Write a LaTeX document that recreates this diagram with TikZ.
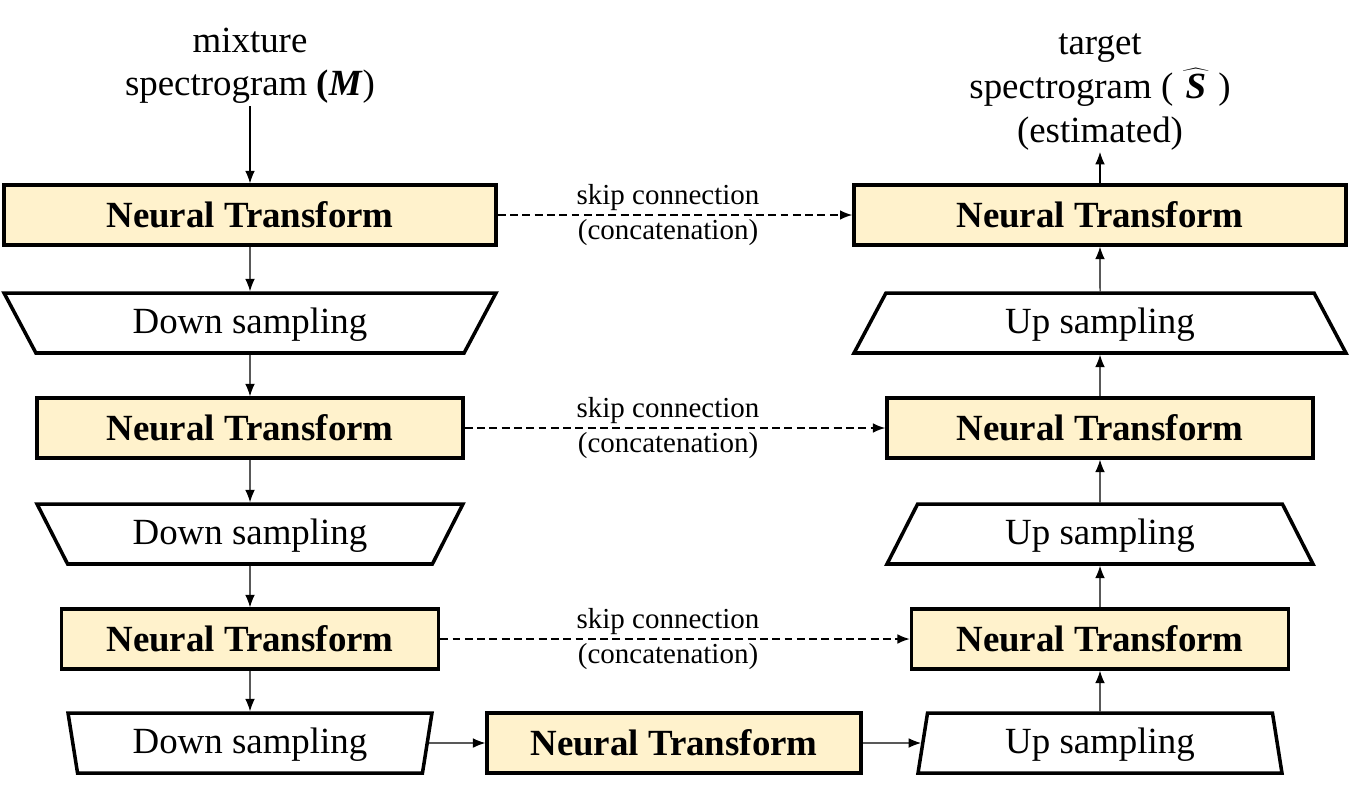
\documentclass[tikz,border=0pt]{standalone}
\usepackage{fontspec}
\setmainfont{Liberation Serif}
\usepackage{tikz}
\usetikzlibrary{positioning}
\usetikzlibrary{arrows.meta,shapes.geometric}
\usepackage{xcolor}
\definecolor{ntfill}{HTML}{FFF2CC}

\begin{document}
\begin{tikzpicture}[x=0.02cm,y=-0.02cm,
  ntbox/.style={draw, line width=2pt, fill=ntfill, minimum height=1.2cm, inner sep=0pt, font=\fontsize{21}{25}\selectfont\bfseries},
  sampbox/.style={draw, line width=2pt, trapezium, trapezium stretches body, text height=0.55cm, text depth=0.15cm, inner xsep=0pt, inner ysep=0.25cm, font=\fontsize{21}{25}\selectfont},
  downbox/.style={sampbox, shape border rotate=180},
  arr/.style={line width=0.6pt, -{Latex[length=7pt,width=5.5pt]}},
  skip/.style={arr, line width=0.9pt, dash pattern=on 4.5pt off 2.5pt},
  skiplabel/.style={font=\fontsize{16.5}{19.8}\selectfont, align=center, xshift=-0.14cm},
  iolabel/.style={font=\fontsize{21}{25}\selectfont, align=center, inner sep=1pt}
]

\useasboundingbox (0,0) rectangle (1350,789);

% encoder
\node[iolabel, anchor=south] (mix) at (250,106) {mixture\\spectrogram \textbf{(\textit{M}})};
\node[ntbox, minimum width=9.84cm] (ntA) at (250,215) {Neural Transform};
\node[downbox, trapezium left angle=62, trapezium right angle=62, minimum width=9.84cm] (downA) at (250,323) {Down sampling};
\node[ntbox, minimum width=8.52cm] (ntB) at (250,428) {Neural Transform};
\node[downbox, trapezium left angle=63, trapezium right angle=63, minimum width=8.52cm] (downB) at (250,534) {Down sampling};
\node[ntbox, minimum width=7.54cm] (ntC) at (250,639) {Neural Transform};
\node[downbox, trapezium left angle=81, trapezium right angle=81, minimum width=7.28cm] (downC) at (250,743) {Down sampling};

% bottleneck
\node[ntbox, minimum width=7.48cm] (ntMid) at (674,743) {Neural Transform};

% decoder
\node[sampbox, trapezium left angle=81, trapezium right angle=81, minimum width=7.28cm] (upC) at (1100,743) {Up sampling};
\node[ntbox, minimum width=7.54cm] (ntRC) at (1100,639) {Neural Transform};
\node[sampbox, trapezium left angle=63, trapezium right angle=63, minimum width=8.52cm] (upB) at (1100,534) {Up sampling};
\node[ntbox, minimum width=8.52cm] (ntRB) at (1100,428) {Neural Transform};
\node[sampbox, trapezium left angle=62, trapezium right angle=62, minimum width=9.84cm] (upA) at (1100,323) {Up sampling};
\node[ntbox, minimum width=9.84cm] (ntRA) at (1100,215) {Neural Transform};
\node[iolabel, anchor=south] (tgt) at (1100,152) {target\\spectrogram~(\,$\widehat{\,\textbf{\textit{S}}\,}$\,)\\(estimated)};

\draw[arr] (mix) -- (ntA);
\draw[arr] (ntA) -- (downA);
\draw[arr] (downA) -- (ntB);
\draw[arr] (ntB) -- (downB);
\draw[arr] (downB) -- (ntC);
\draw[arr] (ntC) -- (downC);
\draw[arr] (downC) -- (ntMid);
\draw[arr] (ntMid) -- (upC);
\draw[arr] (upC) -- (ntRC);
\draw[arr] (ntRC) -- (upB);
\draw[arr] (upB) -- (ntRB);
\draw[arr] (ntRB) -- (upA);
\draw[arr] (upA) -- (ntRA);
\draw[arr] (ntRA) -- (tgt);

% skip connections
\draw[skip] (ntA) -- node[skiplabel] {skip connection\\(concatenation)} (ntRA);
\draw[skip] (ntB) -- node[skiplabel] {skip connection\\(concatenation)} (ntRB);
\draw[skip] (ntC) -- node[skiplabel] {skip connection\\(concatenation)} (ntRC);

\end{tikzpicture}
\end{document}
